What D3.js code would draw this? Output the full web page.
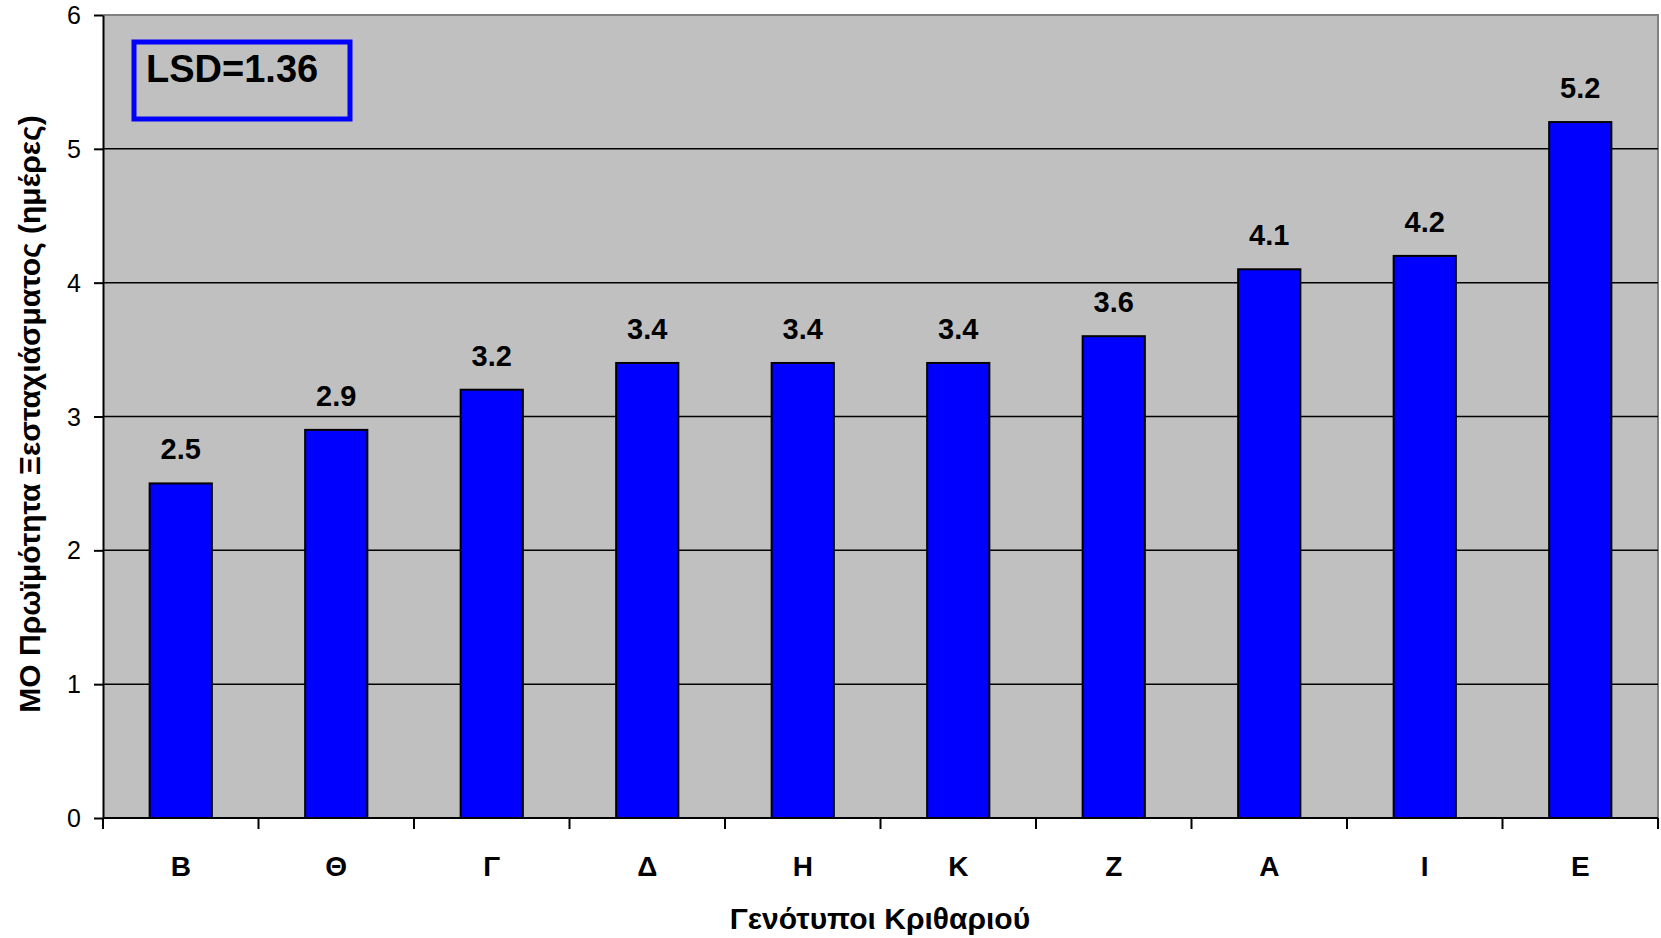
<!DOCTYPE html>
<html><head><meta charset="utf-8">
<script src="https://cdn.jsdelivr.net/npm/d3@7"></script>
<style>body{margin:0;background:#fff}svg{display:block;font-family:Arial,"Liberation Sans",sans-serif}</style>
</head><body><svg id="c" width="1661" height="938"></svg>
<script>
const categories = ["Β","Θ","Γ","Δ","Η","Κ","Ζ","Α","Ι","Ε"];
const values = [2.5,2.9,3.2,3.4,3.4,3.4,3.6,4.1,4.2,5.2];
const yTicks = [0,1,2,3,4,5,6];
const yTitle = "ΜΟ Πρωϊμότητα Ξεσταχιάσματος (ημέρες)";
const xTitle = "Γενότυποι Κριθαριού";
const lsdText = "LSD=1.36";

const svg = d3.select("#c");
const L=103, R=1658, T=15, B=818;
const x = d3.scaleBand().domain(categories).range([L,R]).padding(0);
const y = d3.scaleLinear().domain([0,6]).range([B,T]);

svg.append("rect").attr("x",L).attr("y",T).attr("width",R-L).attr("height",B-T).attr("fill","#c0c0c0");
svg.append("path").attr("d",`M${L},${T}H${R}V${B}`).attr("fill","none").attr("stroke","#808080").attr("stroke-width",2);

svg.append("g").selectAll("line").data(yTicks.filter(d=>d>0&&d<6)).join("line")
  .attr("x1",L).attr("x2",R).attr("y1",d=>y(d)).attr("y2",d=>y(d))
  .attr("stroke","#000").attr("stroke-width",1.5);

const bw = x.bandwidth()*0.4;
svg.append("g").selectAll("rect").data(values).join("rect")
  .attr("x",(d,i)=>x(categories[i])+x.bandwidth()/2-bw/2)
  .attr("y",d=>y(d)).attr("width",bw).attr("height",d=>B-y(d))
  .attr("fill","#0000ff").attr("stroke","#000").attr("stroke-width",2);

svg.append("g").selectAll("text").data(values).join("text")
  .attr("x",(d,i)=>x(categories[i])+x.bandwidth()/2)
  .attr("y",d=>y(d)-24).attr("text-anchor","middle")
  .attr("font-size",29).attr("font-weight","bold").text(d=>d.toFixed(1));

const ya = svg.append("g").attr("transform",`translate(${L},0)`)
  .call(d3.axisLeft(y).tickValues(yTicks).tickSize(9).tickSizeOuter(0).tickFormat(""));
ya.select(".domain").attr("stroke","#000").attr("stroke-width",2);
ya.selectAll(".tick line").attr("stroke","#000").attr("stroke-width",2);
ya.selectAll(".tick text").remove();
svg.append("g").selectAll("text").data(yTicks).join("text")
  .attr("x",81).attr("y",d=>y(d)).attr("dy","0.36em").attr("text-anchor","end")
  .attr("font-size",25).attr("fill","#000").text(d=>d);

const xa = svg.append("g").attr("transform",`translate(0,${B})`);
xa.append("line").attr("x1",L).attr("x2",R).attr("y1",0).attr("y2",0).attr("stroke","#000").attr("stroke-width",2);
const edges = categories.map(c=>x(c)).concat([R]);
xa.selectAll("line.t").data(edges).join("line").attr("class","t")
  .attr("x1",d=>d).attr("x2",d=>d).attr("y1",0).attr("y2",11).attr("stroke","#000").attr("stroke-width",2);
xa.selectAll("text").data(categories).join("text")
  .attr("x",d=>x(d)+x.bandwidth()/2).attr("y",58).attr("text-anchor","middle")
  .attr("font-size",28).attr("font-weight","bold").text(d=>d);

svg.append("text").attr("x",880).attr("y",929).attr("text-anchor","middle")
  .attr("font-size",30).attr("font-weight","bold").text(xTitle);
svg.append("text").attr("transform","translate(40,414) rotate(-90)").attr("text-anchor","middle")
  .attr("font-size",30).attr("font-weight","bold").text(yTitle);

svg.append("rect").attr("x",134).attr("y",42).attr("width",216).attr("height",77)
  .attr("fill","none").attr("stroke","#0000ff").attr("stroke-width",5);
svg.append("text").attr("x",146).attr("y",82).attr("font-size",38).attr("font-weight","bold").text(lsdText);
</script></body></html>
